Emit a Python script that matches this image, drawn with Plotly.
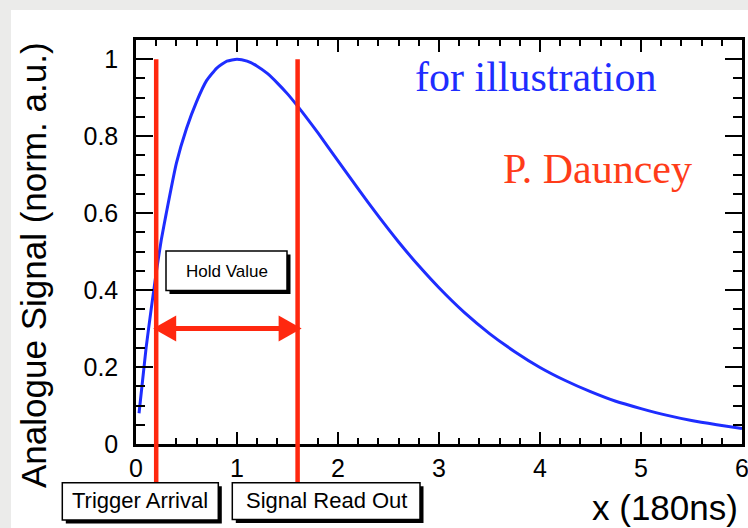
import plotly.graph_objects as go

# ---- data ----
signal_x = [0.03, 0.1, 0.15, 0.2, 0.25, 0.3, 0.4, 0.5, 0.6, 0.7, 0.8, 0.9, 1.0, 1.1, 1.2, 1.3,
            1.4, 1.5, 1.6, 1.8, 2.0, 2.2, 2.4, 2.6, 2.8, 3.0, 3.25, 3.5, 3.75, 4.0, 4.25,
            4.5, 4.75, 5.0, 5.25, 5.5, 5.75, 6.0]
signal_y = [0.08, 0.25, 0.35, 0.445, 0.53, 0.60, 0.73, 0.82, 0.89, 0.945, 0.977, 0.995, 1.0,
            0.995, 0.982, 0.963, 0.938, 0.91, 0.878, 0.809, 0.736, 0.663, 0.592, 0.525,
            0.463, 0.406, 0.342, 0.287, 0.24, 0.199, 0.165, 0.136, 0.111, 0.092, 0.075,
            0.061, 0.05, 0.04]

trigger_x = 0.2
readout_x = 1.6
marker_top = 1.0
hold_level = 0.3
arrow_x0 = 0.17
arrow_x1 = 1.64

x_ticks = [0, 1, 2, 3, 4, 5, 6]
x_tick_labels = ["0", "1", "2", "3", "4", "5", "6"]
y_ticks = [0, 0.2, 0.4, 0.6, 0.8, 1.0]
y_tick_labels = ["0", "0.2", "0.4", "0.6", "0.8", "1"]

# ---- layout geometry (pixels) ----
W, H = 748, 528
ML, MR, MT, MB = 136, 6, 40, 84
PW, PH = W - ML - MR, H - MT - MB
X_RANGE = [0, 6]
Y_RANGE = [0, 1.05]


def px(p):  # pixel x -> paper
    return (p - ML) / PW


def py(p):  # pixel y -> paper
    return (H - MB - p) / PH


def yd2paper(v):
    return (v - Y_RANGE[0]) / (Y_RANGE[1] - Y_RANGE[0])


RED = "rgb(255,40,15)"
BLUE = "rgb(30,45,255)"
SANS = "Liberation Sans, Arial, sans-serif"
SERIF = "Liberation Serif, Times New Roman, serif"

fig = go.Figure()
fig.add_trace(go.Scatter(x=signal_x, y=signal_y, mode="lines",
                         line=dict(color=BLUE, width=3, shape="spline", smoothing=0.5),
                         showlegend=False, hoverinfo="skip", cliponaxis=True))

shapes = []
# white canvas over gray page
shapes.append(dict(type="rect", xref="paper", yref="paper", x0=px(11), x1=px(760),
                   y0=py(10), y1=py(540), fillcolor="white", line=dict(width=0),
                   layer="below"))

# vertical red lines
for xv in (trigger_x, readout_x):
    shapes.append(dict(type="line", xref="x", yref="paper", x0=xv, x1=xv,
                       y0=yd2paper(marker_top), y1=py(482.7),
                       line=dict(color=RED, width=4.5)))

# double arrow
head_len = 23 / PW * (X_RANGE[1] - X_RANGE[0])
head_half = 13 / PH * (Y_RANGE[1] - Y_RANGE[0])
shapes.append(dict(type="line", xref="x", yref="y", x0=arrow_x0 + head_len / 2,
                   x1=arrow_x1 - head_len / 2, y0=hold_level, y1=hold_level,
                   line=dict(color=RED, width=5)))
for tip, d in ((arrow_x0, 1), (arrow_x1, -1)):
    base = tip + d * head_len
    path = (f"M {tip},{hold_level} L {base},{hold_level + head_half} "
            f"L {base},{hold_level - head_half} Z")
    shapes.append(dict(type="path", xref="x", yref="y", path=path,
                       fillcolor=RED, line=dict(color=RED, width=0)))


def shadow_box(x0, x1, y0, y1, off=3.5):
    out = [dict(type="rect", xref="paper", yref="paper", x0=px(x0 + off), x1=px(x1 + off),
                y0=py(y0 + off), y1=py(y1 + off), fillcolor="black",
                line=dict(width=0)),
           dict(type="rect", xref="paper", yref="paper", x0=px(x0), x1=px(x1),
                y0=py(y0), y1=py(y1), fillcolor="white",
                line=dict(color="black", width=1.5))]
    return out


shapes += shadow_box(166, 287, 251, 290.5)
shapes += shadow_box(62.3, 218.3, 482.7, 520)
shapes += shadow_box(232.3, 420, 482.7, 519.5)


def ann(text, x, y, size, family=SANS, color="black", xanchor="center", **kw):
    return dict(text=text, x=px(x), y=py(y), xref="paper", yref="paper",
                xanchor=xanchor, yanchor="middle", showarrow=False,
                font=dict(family=family, size=size, color=color), **kw)


annotations = [
    ann("Hold Value", 226.5, 271, 17),
    ann("Trigger Arrival", 140.3, 501, 22),
    ann("Signal Read Out", 326, 501, 22),
    ann("for illustration", 413, 77, 42, family=SERIF, color=BLUE, xanchor="left"),
    ann("P. Dauncey", 501, 169.5, 42, family=SERIF, color="rgb(255,60,25)",
        xanchor="left"),
    ann("Analogue Signal (norm. a.u.)", 33, 265, 35, textangle=-90),
    ann("x (180ns)", 740, 508, 35, xanchor="right"),
]

axis_common = dict(showline=True, linecolor="black", linewidth=2.5, mirror="allticks",
                   ticks="inside", tickcolor="black", tickwidth=2, showgrid=False,
                   zeroline=False, automargin=False, ticklabeloverflow="allow",
                   tickfont=dict(family=SANS, size=25, color="black"))

fig.update_layout(
    width=W, height=H, autosize=False,
    margin=dict(l=ML, r=MR, t=MT, b=MB, pad=0, autoexpand=False),
    paper_bgcolor="#ebebea", plot_bgcolor="white",
    xaxis=dict(range=X_RANGE, tickvals=x_ticks, ticktext=x_tick_labels, ticklen=12,
               ticklabelstandoff=0,
               minor=dict(dtick=0.2, ticklen=6, tickwidth=2, ticks="inside",
                          tickcolor="black", showgrid=False),
               **axis_common),
    yaxis=dict(range=Y_RANGE, tickvals=y_ticks, ticktext=y_tick_labels, ticklen=17,
               ticklabelstandoff=10,
               minor=dict(dtick=0.05, ticklen=9, tickwidth=2, ticks="inside",
                          tickcolor="black", showgrid=False),
               **axis_common),
    shapes=shapes, annotations=annotations, showlegend=False,
)

fig.write_html("out.html", config={"displayModeBar": False})
